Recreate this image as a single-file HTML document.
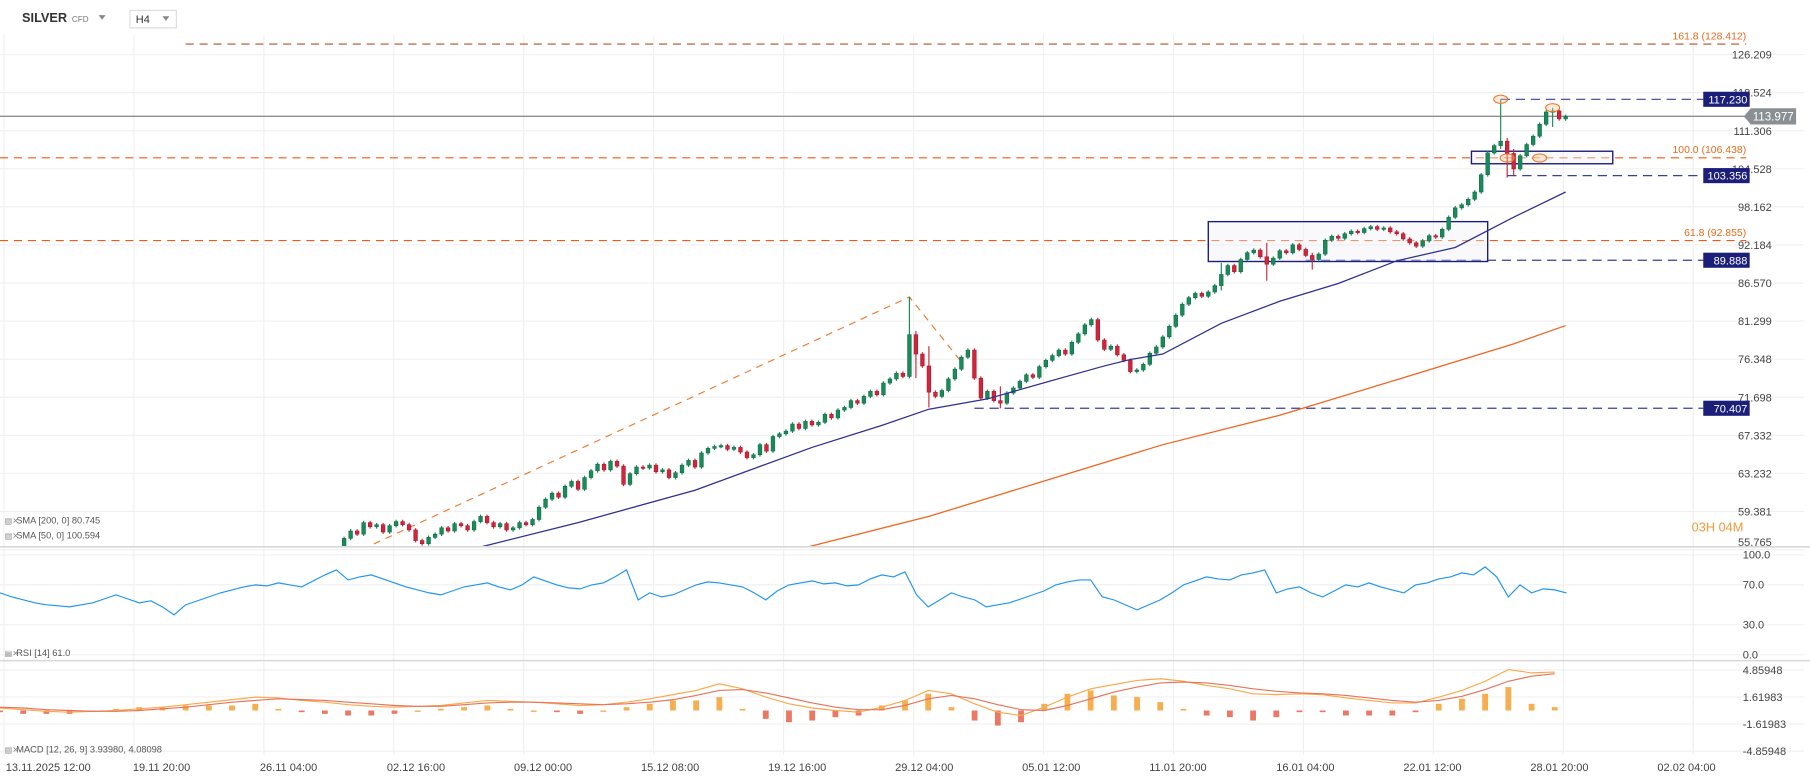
<!DOCTYPE html>
<html><head><meta charset="utf-8"><style>
html,body{margin:0;padding:0;background:#fff;overflow:hidden}
svg{display:block;font-family:"Liberation Sans",sans-serif}
</style></head><body>
<svg id="chart" width="1810" height="779" viewBox="0 0 1560 671" preserveAspectRatio="none" xmlns="http://www.w3.org/2000/svg">
<g id="grid"></g>
<g id="overlays"></g>
<g id="candles"></g>
<g id="ind"></g>
<g id="axes"></g>
<g>
 <text x="19" y="19" font-size="11" font-weight="bold" fill="#333">SILVER</text>
 <text x="62" y="19" font-size="7" fill="#777">CFD</text>
 <path d="M85 13 l6 0 l-3 4z" fill="#888"/>
 <rect x="112" y="9" width="40" height="15" fill="#fff" stroke="#ddd"/>
 <text x="117" y="20" font-size="9.5" fill="#333">H4</text>
 <path d="M140 14 l6 0 l-3 4z" fill="#888"/>
</g>
</svg>
<script>
// ---- data ----
const closes=[55.8,56.8,57.5,57.2,58.3,57.9,58.1,57.4,58.0,58.4,
58.1,57.6,56.6,56.3,56.9,57.2,57.8,57.5,58.2,58.0,
57.6,58.4,58.9,58.3,57.9,58.2,57.6,57.8,58.3,58.1,
58.6,59.8,60.6,61.2,60.8,61.9,62.4,61.6,62.8,63.5,
64.2,63.6,64.5,64.0,62.1,63.2,63.9,63.8,64.1,63.4,
63.6,62.8,63.3,64.1,64.6,63.9,65.4,65.9,66.1,66.2,
65.8,66.0,65.5,64.9,65.2,66.3,65.6,67.2,67.5,67.8,
68.6,68.1,68.9,68.5,68.8,69.7,69.3,70.2,70.5,71.3,
71.0,71.8,72.4,72.0,73.4,73.9,74.6,74.2,79.5,77.0,
75.5,72.3,71.8,72.5,73.9,75.1,76.6,77.5,74.0,71.6,
72.4,71.3,71.0,72.2,72.8,73.6,74.4,74.1,75.4,76.2,
76.8,77.5,77.0,78.5,79.6,80.8,81.5,78.8,77.6,78.0,
76.9,76.2,74.8,75.0,75.7,77.1,77.9,79.2,80.6,82.1,
83.6,84.5,85.1,84.7,85.3,86.2,87.8,89.1,88.2,90.0,
91.0,91.4,90.4,89.3,90.2,91.3,91.0,92.2,91.5,90.6,
90.0,90.8,92.9,93.5,93.2,93.9,94.3,94.1,94.7,95.0,
94.6,94.8,94.2,93.9,93.1,92.5,92.0,92.8,93.6,93.4,
94.6,96.5,98.0,98.5,99.4,100.6,103.5,107.3,108.6,109.4,
107.2,104.5,106.8,108.8,110.3,112.5,114.8,115.0,113.5,113.977];
const wickIdx=[88,89,91,102,136,143,150,179,180,181,187];
const wickHigh=[84.6,80,78,73,89.5,92.5,91,117.23,110,108,115.6];
const wickLow=[76,74,70.5,70.4,85.5,86.9,88.5,108,103,103.356,112];
const sma50Idx=[22,37,55,73,84,91,100,109,118,122,127,136,145,154,163,172,181,189];
const sma50=[56.0,58.3,61.5,66,68.5,70.3,71.5,73.5,75.5,76.3,77,81,84,86.5,89.8,91.8,96.5,100.6];
const sma200Idx=[71,91,109,127,145,163,181,189];
const sma200=[55.8,58.9,62.5,66.3,69.6,73.8,78.3,80.7];
const rsi=[62,58,55,52,50,49,48,50,52,56,
60,56,52,54,48,40,50,54,58,62,
65,68,70,69,72,70,68,74,80,85,
75,78,80,76,72,68,65,62,60,64,
68,70,72,68,65,70,78,74,70,67,
66,70,72,78,85,55,62,58,60,65,
70,73,72,70,68,62,55,64,70,72,
74,71,72,69,70,76,80,78,83,60,
48,55,62,58,55,48,50,52,56,60,
64,70,73,75,75,58,55,50,45,50,
55,62,70,74,78,76,75,80,82,85,
62,66,68,62,58,64,70,68,72,68,
65,62,70,72,76,78,82,80,88,78,
58,70,62,66,65,62];
const macd=[0.3,0.1,-0.1,-0.2,-0.1,0.0,0.2,0.4,0.7,1.0,1.3,1.6,1.5,1.2,1.0,0.7,0.5,0.4,0.5,0.6,0.9,1.2,1.1,1.0,0.8,0.6,0.7,1.0,1.4,1.9,2.4,3.2,2.6,1.6,0.8,0.3,0.0,-0.2,0.4,1.2,2.4,2.0,0.8,-0.2,-0.6,0.4,1.6,2.6,3.1,3.6,3.8,3.5,3.0,2.6,2.0,1.9,2.0,1.9,1.5,1.2,0.9,0.9,1.6,2.4,3.5,4.9,4.5,4.6];
const signal=[0.4,0.3,0.1,0.0,-0.1,-0.1,0.0,0.2,0.4,0.7,1.0,1.2,1.4,1.3,1.2,1.0,0.8,0.6,0.5,0.5,0.7,0.9,1.0,1.0,0.9,0.8,0.7,0.8,1.0,1.3,1.8,2.4,2.5,2.1,1.5,0.9,0.4,0.1,0.1,0.6,1.4,1.8,1.4,0.7,0.1,0.0,0.6,1.4,2.2,2.8,3.3,3.4,3.3,3.0,2.6,2.3,2.1,2.0,1.8,1.5,1.2,1.0,1.2,1.7,2.5,3.5,4.1,4.4];
const priceTicks=["126.209","118.524","111.306","104.528","98.162","92.184","86.570","81.299","76.348","71.698","67.332","63.232","59.381","55.765"];
const rsiTicks=[100,70,30,0];
const macdTicks=["4.85948","1.61983","-1.61983","-4.85948"];
const timeLabels=["13.11.2025  12:00","19.11  20:00","26.11  04:00","02.12  16:00","09.12  00:00","15.12  08:00","19.12  16:00","29.12  04:00","05.01  12:00","11.01  20:00","16.01  04:00","22.01  12:00","28.01  20:00","02.02  04:00"];
const fibLevels=[128.412,106.438,92.855];
const fibLabels=["161.8 (128.412)","100.0 (106.438)","61.8 (92.855)"];
const levelPrices=[117.23,103.356,89.888,70.407];
const levelStartIdx=[179,180,149,98];
const lastPrice=113.977;
// ---- axes ----
const NS="http://www.w3.org/2000/svg";
const py=p=>47+522*Math.log(126.209/p);
const cx=i=>291+i*5.6;
const sx=j=>j*20;
const rx=j=>j*10;
const ry=v=>564-v*0.86;
const my=v=>612-v*7.2;
function mk(tag,attrs,parent,txt){const e=document.createElementNS(NS,tag);for(const k in attrs)e.setAttribute(k,attrs[k]);if(txt!==undefined)e.textContent=txt;document.getElementById(parent).appendChild(e);return e;}
// grid
for(let k=0;k<14;k++){const e=mk('line',{x1:3.4+112*k,x2:3.4+112*k,y1:30,y2:650,stroke:'#f0f0f0'},'grid');
}
priceTicks.forEach(t=>{const y=py(parseFloat(t));const e=mk('line',{x1:0,x2:1555,y1:y,y2:y,stroke:'#f0f0f0'},'grid');

const l=mk('text',{x:1527,y:Math.min(y,467)+3.5,'font-size':9.5,fill:'#444','text-anchor':'end'},'axes',t);
});
rsiTicks.forEach(v=>{const y=ry(v);const e=mk('line',{x1:0,x2:1555,y1:y,y2:y,stroke:'#f0f0f0'},'grid');

const l=mk('text',{x:1502,y:y+3,'font-size':9.5,fill:'#444'},'axes',v.toFixed(1));
});
macdTicks.forEach(t=>{const y=my(parseFloat(t));const e=mk('line',{x1:0,x2:1555,y1:y,y2:y,stroke:'#f0f0f0'},'grid');

const l=mk('text',{x:1502,y:y+3.5,'font-size':9.5,fill:'#444'},'axes',t);
});
timeLabels.forEach((t,k)=>{const l=mk('text',{x:5+109.5*k,y:664,'font-size':9.5,fill:'#444','xml:space':'preserve'},'axes',t);
});
[471,569].forEach(y=>{const e=mk('line',{x1:0,x2:1560,y1:y,y2:y,stroke:'#d8d8d8','stroke-width':1.3},'axes');
});
// clip for price panel
const defs=mk('defs',{},'chart');
const cp=document.createElementNS(NS,'clipPath');cp.setAttribute('id','pc');defs.appendChild(cp);
const cr=document.createElementNS(NS,'rect');cr.setAttribute('x',0);cr.setAttribute('y',28);cr.setAttribute('width',1555);cr.setAttribute('height',443);cp.appendChild(cr);
document.getElementById('candles').setAttribute('clip-path','url(#pc)');
document.getElementById('overlays').setAttribute('clip-path','url(#pc)');
// overlays: fib lines
fibLevels.forEach((p,k)=>{const y=py(p);const e=mk('line',{x1:k==0?160:0,x2:1505,y1:y,y2:y,stroke:k==0?'#b0522a':'#f05a14','stroke-dasharray':'7 5','stroke-width':1},'overlays');

const l=mk('text',{x:1505,y:y-4,'font-size':9,fill:'#e86a1c','text-anchor':'end'},'axes',fibLabels[k]);
});
levelPrices.forEach((p,k)=>{const y=py(p);const e=mk('line',{x1:cx(levelStartIdx[k]),x2:1468,y1:y,y2:y,stroke:'#3a3f9a','stroke-dasharray':'8 5','stroke-width':1},'overlays');

const b=mk('rect',{x:1468,y:y-6.5,width:40,height:13,fill:'#1c1f7a'},'axes');

const l=mk('text',{x:1506,y:y+3.5,'font-size':9.5,fill:'#fff','text-anchor':'end'},'axes',p.toFixed(3));
});
{const y=py(lastPrice);const e=mk('line',{x1:0,x2:1508,y1:y,y2:y,stroke:'#8a8f94','stroke-width':1.2},'overlays');

const b=mk('path',{d:`M1503 ${y} L1509 ${y-7} L1548 ${y-7} L1548 ${y+7} L1509 ${y+7}Z`,fill:'#8a8f94'},'axes');

const l=mk('text',{x:1546,y:y+3.5,'font-size':10,fill:'#fff','text-anchor':'end'},'axes',lastPrice.toFixed(3));
}
// trend lines
{const e=mk('polyline',{points:`${cx(2)},${py(55.3)} ${cx(88)},${py(84.6)} ${cx(96)},${py(76)}`,fill:'none',stroke:'#f07a30','stroke-dasharray':'6 5','stroke-width':1},'overlays');
}
{const e=mk('rect',{x:cx(134),y:py(95.8),width:cx(177)-cx(134),height:py(89.7)-py(95.8),fill:'rgba(240,240,245,0.4)',stroke:'#1c1f7a','stroke-width':1.2},'overlays');

const f=mk('rect',{x:cx(174.5),y:py(107.6),width:1390-cx(174.5),height:py(105.4)-py(107.6),fill:'rgba(240,240,245,0.4)',stroke:'#1c1f7a','stroke-width':1.2},'overlays');
}
// candles
closes.forEach((c,i)=>{const o=i?closes[i-1]:c-0.5;let hi=Math.max(o,c)*1.003,lo=Math.min(o,c)*0.997;
const w=wickIdx.indexOf(i);if(w>=0){hi=Math.max(hi,wickHigh[w]);lo=Math.min(lo,wickLow[w]);}
const up=c>=o,col=up?'#1a8a5a':'#d0253a',x=cx(i);
const wk=mk('line',{x1:x,x2:x,y1:py(hi),y2:py(lo),stroke:col,'stroke-width':1},'candles');

const t=Math.min(py(o),py(c)),h=Math.max(1.2,Math.abs(py(o)-py(c)));
const b=mk('rect',{x:x-1.6,y:t,width:3.2,height:h,fill:col,stroke:up?'#0f6e44':'#a81a2c','stroke-width':0.5},'candles');
});
[[179,117.23],[187,115.6],[180,106.4],[185,106.4]].forEach(([i,p])=>{const e=mk('ellipse',{cx:cx(i),cy:py(p),rx:6,ry:3.5,fill:'rgba(255,200,150,0.35)',stroke:'#f07a30','stroke-width':1},'candles');
});
// SMA lines
{const s=mk('polyline',{points:sma50.map((v,k)=>cx(sma50Idx[k])+','+py(v)).join(' '),fill:'none',stroke:'#2e3192','stroke-width':1.1},'candles');

const s2=mk('polyline',{points:sma200.map((v,k)=>cx(sma200Idx[k])+','+py(v)).join(' '),fill:'none',stroke:'#f26522','stroke-width':1.1},'candles');
}
// RSI
{const r=mk('polyline',{points:rsi.map((v,j)=>rx(j)+','+ry(v)).join(' '),fill:'none',stroke:'#2196f3','stroke-width':1},'ind');
}
// MACD
macd.forEach((v,j)=>{const d=v-signal[j];const y0=my(0),y1=my(d*2);
const b=mk('rect',{x:sx(j)-2.5,y:Math.min(y0,y1),width:5,height:Math.max(1.2,Math.abs(y1-y0)),fill:d>=0?'#f5a030':'#e8604a','opacity':0.85},'ind');
});
{const m=mk('polyline',{points:macd.map((v,j)=>sx(j)+','+my(v)).join(' '),fill:'none',stroke:'#f9a94b','stroke-width':1},'ind');

const s=mk('polyline',{points:signal.map((v,j)=>sx(j)+','+my(v)).join(' '),fill:'none',stroke:'#e9735a','stroke-width':1},'ind');
}
// legends
[['SMA [200, 0] 80.745',451,'sma200-legend'],['SMA [50, 0] 100.594',464,'sma50-legend'],['RSI [14] 61.0',565,'rsi-legend'],['MACD [12, 26, 9] 3.93980, 4.08098',648,'macd-legend']].forEach(([t,y,n])=>{
const l=mk('text',{x:14,y:y,'font-size':8,fill:'#555'},'axes',t);

const ic=mk('text',{x:4,y:y,'font-size':7,fill:'#888'},'axes','▤✕');
});
{const l=mk('text',{x:1458,y:458,'font-size':11,fill:'#f39a3a'},'axes','03H 04M');
}
</script>
</body></html>
